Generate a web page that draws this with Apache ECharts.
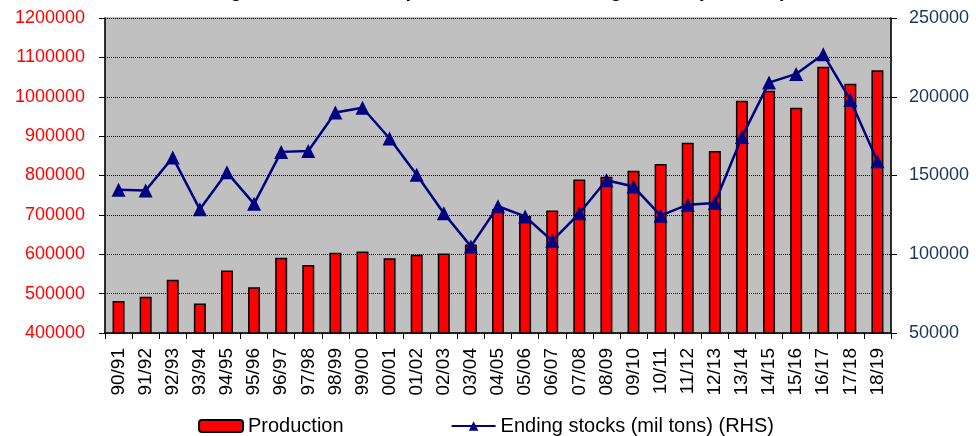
<!DOCTYPE html>
<html>
<head>
<meta charset="utf-8">
<script src="https://cdn.jsdelivr.net/npm/echarts@6/dist/echarts.min.js"></script>
<style>
  html, body { margin: 0; padding: 0; background: #fff; }
  #chart { width: 976px; height: 436px; }
</style>
</head>
<body>
<div id="chart"></div>
<script>
const seasons = ["90/91", "91/92", "92/93", "93/94", "94/95", "95/96", "96/97", "97/98", "98/99", "99/00",
  "00/01", "01/02", "02/03", "03/04", "04/05", "05/06", "06/07", "07/08", "08/09", "09/10",
  "10/11", "11/12", "12/13", "13/14", "14/15", "15/16", "16/17", "17/18", "18/19"];

const production = [481000, 492000, 535000, 475000, 559000, 516000, 591000, 573000, 604000, 607000,
  590000, 599000, 602000, 625000, 714000, 697000, 711000, 790000, 797000, 812000,
  829000, 883000, 862000, 990000, 1015000, 972000, 1076000, 1033000, 1067000];

const endingStocks = [141000, 140500, 161500, 128500, 152000, 132000, 165000, 165500, 190000, 193000,
  173500, 150500, 126000, 105000, 130500, 124000, 108500, 126000, 147000, 143000,
  124500, 131500, 132500, 174500, 209000, 214500, 227000, 198000, 159000];

const leftTicks = [400000, 1200000, 100000];
const rightTicks = [50000, 250000, 50000];

const chart = echarts.init(document.getElementById("chart"), null, { renderer: "canvas" });

// title sits mostly above the picture, only its descenders show
const titleText = "Long-term world corn production and ending stocks (mil tons)";

const option = {
  animation: false,
  graphic: [
    {
      type: "text",
      x: 490,
      y: 1,
      silent: true,
      style: {
        text: titleText,
        align: "center",
        verticalAlign: "bottom",
        font: "bold 20px 'Liberation Sans'",
        fill: "#000",
      },
    },
  ],
  grid: {
    left: 105,
    right: 85,
    top: 18,
    bottom: 103,
    show: true,
    backgroundColor: "#c0c0c0",
    borderColor: "#808080",
    borderWidth: 1,
  },
  legend: {
    top: 411,
    left: 193,
    itemGap: 107,
    itemWidth: 44,
    itemHeight: 12,
    textStyle: { fontFamily: "Liberation Sans", fontSize: 20, color: "#000" },
    data: [
      { name: "Production" },
      { name: "Ending stocks (mil tons) (RHS)" },
    ],
  },
  xAxis: {
    type: "category",
    data: seasons,
    axisLine: { lineStyle: { color: "#000", width: 1.5 } },
    axisTick: { show: true, length: 6, interval: 0, lineStyle: { color: "#000" } },
    axisLabel: {
      rotate: 90,
      interval: 0,
      margin: 15,
      fontFamily: "Liberation Sans",
      fontSize: 19,
      color: "#000",
    },
  },
  yAxis: [
    {
      type: "value",
      min: leftTicks[0],
      max: leftTicks[1],
      interval: leftTicks[2],
      axisLine: { show: true, lineStyle: { color: "#000", width: 1.5 } },
      axisTick: { show: true, length: 6, lineStyle: { color: "#000" } },
      axisLabel: {
        fontFamily: "Liberation Sans",
        fontSize: 18,
        color: "#ff0000",
        margin: 20,
        formatter: (v) => String(v),
      },
      splitLine: { show: true, lineStyle: { color: "#000", type: "dotted", width: 1 } },
    },
    {
      type: "value",
      min: rightTicks[0],
      max: rightTicks[1],
      interval: rightTicks[2],
      axisLine: { show: true, lineStyle: { color: "#000", width: 1.5 } },
      axisTick: { show: true, length: 6, lineStyle: { color: "#000" } },
      axisLabel: {
        fontFamily: "Liberation Sans",
        fontSize: 18,
        color: "#17375e",
        margin: 18,
        formatter: (v) => String(v),
      },
      splitLine: { show: false },
    },
  ],
  series: [
    {
      name: "Production",
      type: "bar",
      data: production,
      barWidth: 12,
      itemStyle: { color: "#ff0000", borderColor: "#000", borderWidth: 1.5 },
    },
    {
      name: "Ending stocks (mil tons) (RHS)",
      type: "line",
      yAxisIndex: 1,
      data: endingStocks,
      symbol: "triangle",
      symbolSize: 14,
      lineStyle: { color: "#000080", width: 2.5 },
      itemStyle: { color: "#000080" },
    },
  ],
};

chart.setOption(option);
window.addEventListener("resize", chart.resize);
</script>
</body>
</html>
